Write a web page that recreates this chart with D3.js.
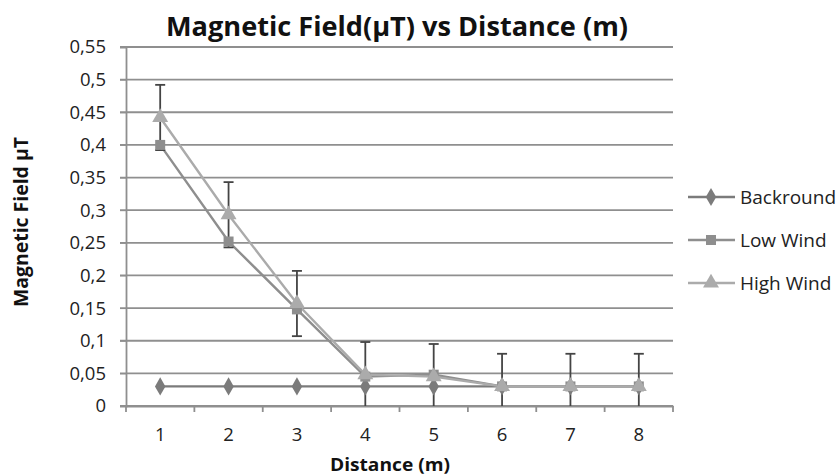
<!DOCTYPE html>
<html>
<head>
<meta charset="utf-8">
<script src="https://cdn.jsdelivr.net/npm/d3@7"></script>
<style>
  body { margin: 0; background: #fff; }
  svg { font-family: "Open Sans", "DejaVu Sans", sans-serif; }
</style>
</head>
<body>
<script>
// data
const distances = [1, 2, 3, 4, 5, 6, 7, 8];
const backround = [0.03, 0.03, 0.03, 0.03, 0.03, 0.03, 0.03, 0.03];
const lowWind = [0.4, 0.252, 0.148, 0.045, 0.048, 0.03, 0.03, 0.03];
const highWind = [0.442, 0.293, 0.157, 0.048, 0.045, 0.03, 0.03, 0.03];
const highWindErr = [0.05, 0.05, 0.05, 0.05, 0.05, 0.05, 0.05, 0.05];
const yTicks = [0, 0.05, 0.1, 0.15, 0.2, 0.25, 0.3, 0.35, 0.4, 0.45, 0.5, 0.55];

const series = [
  { name: "Backround", values: backround, color: "#7b7b7b", symbol: d3.symbolDiamond, size: 95 },
  { name: "Low Wind", values: lowWind, color: "#8e8e8e", symbol: d3.symbolSquare, size: 100 },
  { name: "High Wind", values: highWind, color: "#ababab", symbol: d3.symbolTriangle, size: 110 }
];

const width = 840, height = 475;
const margin = { top: 47, right: 167, bottom: 69, left: 126 };

const svg = d3.select("body").append("svg")
  .attr("width", width)
  .attr("height", height);

const x = d3.scaleBand()
  .domain(distances)
  .range([margin.left, width - margin.right]);

const y = d3.scaleLinear()
  .domain([0, 0.55])
  .range([height - margin.bottom, margin.top]);

const fmt = v => d3.format(".2~f")(v).replace(".", ",");

// gridlines
svg.append("g")
  .selectAll("line")
  .data(yTicks)
  .join("line")
  .attr("x1", margin.left - 6)
  .attr("x2", width - margin.right)
  .attr("y1", d => y(d))
  .attr("y2", d => y(d))
  .attr("stroke", "#8f8f8f")
  .attr("stroke-width", 1.8);

// y axis
let yAxis = svg.append("g")
  .attr("transform", `translate(${margin.left},0)`)
  .call(d3.axisLeft(y).tickValues(yTicks).tickFormat(fmt).tickSize(6).tickPadding(14));
yAxis.select(".domain").attr("stroke", "#8f8f8f").attr("stroke-width", 1.8);
yAxis.selectAll(".tick line").attr("stroke", "#8f8f8f");
yAxis.selectAll("text")
  .attr("font-size", 18.5)
  .attr("fill", "#222")
  .style("font-family", "Open Sans, sans-serif");

// x axis, ticks on the band edges
let xAxis = svg.append("g")
  .attr("transform", `translate(0,${height - margin.bottom})`)
  .call(d3.axisBottom(x).tickSize(0).tickPadding(22));
xAxis.select(".domain").attr("stroke", "#8f8f8f").attr("stroke-width", 1.8);
xAxis.selectAll("text")
  .attr("font-size", 18.5)
  .attr("fill", "#222")
  .style("font-family", "Open Sans, sans-serif");
xAxis.selectAll("line.edge")
  .data(distances.concat([null]))
  .join("line")
  .attr("class", "edge")
  .attr("x1", (d, i) => margin.left + i * x.bandwidth())
  .attr("x2", (d, i) => margin.left + i * x.bandwidth())
  .attr("y1", 0)
  .attr("y2", 6)
  .attr("stroke", "#8f8f8f")
  .attr("stroke-width", 1.8);

const cx = d => x(d) + x.bandwidth() / 2;

// lines and markers
const line = d3.line()
  .x((d, i) => cx(distances[i]))
  .y(d => y(d));

series.forEach(s => {
  svg.append("path")
    .datum(s.values)
    .attr("fill", "none")
    .attr("stroke", s.color)
    .attr("stroke-width", 2.4)
    .attr("d", line);
});

// error bars on High Wind, clipped at zero
const errG = svg.append("g");
highWind.forEach((v, i) => {
  const xc = cx(distances[i]);
  const top = y(v + highWindErr[i]);
  const lo = v - highWindErr[i];
  const bottom = y(Math.max(0, lo));
  errG.append("line")
    .attr("x1", xc).attr("x2", xc)
    .attr("y1", top).attr("y2", bottom)
    .attr("stroke", "#444").attr("stroke-width", 1.8);
  errG.append("line")
    .attr("x1", xc - 5).attr("x2", xc + 5)
    .attr("y1", top).attr("y2", top)
    .attr("stroke", "#444").attr("stroke-width", 1.8);
  if (lo >= 0) {
    errG.append("line")
      .attr("x1", xc - 5).attr("x2", xc + 5)
      .attr("y1", bottom).attr("y2", bottom)
      .attr("stroke", "#444").attr("stroke-width", 1.8);
  }
});

series.forEach(s => {
  svg.append("g")
    .selectAll("path")
    .data(s.values)
    .join("path")
    .attr("transform", (d, i) => `translate(${cx(distances[i])},${y(d)})`)
    .attr("d", d3.symbol().type(s.symbol).size(s.size))
    .attr("fill", s.color);
});

// title
svg.append("text")
  .attr("x", 397)
  .attr("y", 36)
  .attr("text-anchor", "middle")
  .attr("font-size", 26)
  .attr("font-weight", "bold")
  .attr("fill", "#111")
  .attr("textLength", 462)
  .attr("lengthAdjust", "spacingAndGlyphs")
  .text("Magnetic Field(μT) vs Distance (m)");

// axis titles
svg.append("text")
  .attr("x", 390)
  .attr("y", 471)
  .attr("text-anchor", "middle")
  .attr("font-size", 18)
  .attr("font-weight", "bold")
  .attr("fill", "#111")
  .attr("textLength", 120)
  .attr("lengthAdjust", "spacingAndGlyphs")
  .text("Distance (m)");

svg.append("text")
  .attr("transform", `translate(28,222) rotate(-90)`)
  .attr("text-anchor", "middle")
  .attr("font-size", 19)
  .attr("font-weight", "bold")
  .attr("fill", "#111")
  .attr("textLength", 170)
  .attr("lengthAdjust", "spacingAndGlyphs")
  .text("Magnetic Field μT");

// legend
const legend = svg.append("g")
  .selectAll("g")
  .data(series)
  .join("g")
  .attr("transform", (d, i) => `translate(688,${197 + i * 43})`);
legend.append("line")
  .attr("x1", 0).attr("x2", 47)
  .attr("stroke", d => d.color)
  .attr("stroke-width", 2.4);
legend.append("path")
  .attr("transform", "translate(23,0)")
  .attr("d", d => d3.symbol().type(d.symbol).size(d.size)())
  .attr("fill", d => d.color);
legend.append("text")
  .attr("x", 52)
  .attr("dy", "0.35em")
  .attr("font-size", 19)
  .attr("fill", "#222")
  .text(d => d.name);
</script>
</body>
</html>
